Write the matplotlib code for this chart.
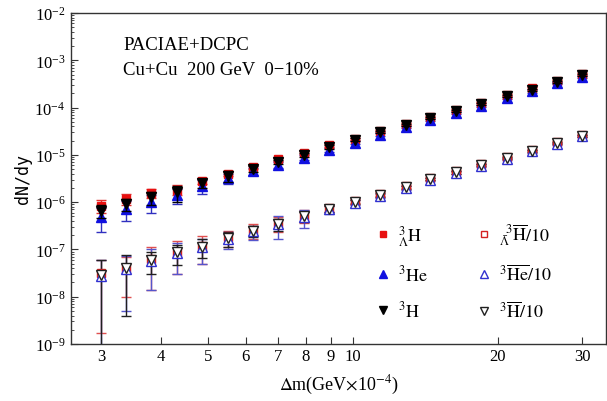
import matplotlib
matplotlib.use("Agg")
import matplotlib.pyplot as plt
from matplotlib.ticker import FixedLocator, NullLocator, LogLocator, FixedFormatter
from matplotlib.lines import Line2D

# ---- data ----
dm = [3.0, 3.39, 3.82, 4.32, 4.87, 5.50, 6.21, 7.01, 7.92, 8.94,
      10.1, 11.4, 12.9, 14.5, 16.4, 18.5, 20.9, 23.6, 26.6, 30.0]

lam3H = [8.4e-7, 1.17e-6, 1.55e-6, 1.85e-6, 2.85e-6, 4.0e-6, 5.6e-6, 8.0e-6, 1.12e-5, 1.6e-5,
         2.2e-5, 3.2e-5, 4.6e-5, 6.3e-5, 9.0e-5, 1.28e-4, 1.85e-4, 2.55e-4, 3.7e-4, 5.2e-4]
lam3H_err = [2.5e-7, 3.0e-7, 3.5e-7, 4.0e-7, 4.5e-7, 5.0e-7, 6.0e-7, 7.0e-7, 8.0e-7, 1.0e-6,
             1.2e-6, 1.6e-6, 2.2e-6, 3.0e-6, 4.2e-6, 6.0e-6, 8.5e-6, 1.2e-5, 1.7e-5, 2.4e-5]

he3 = [4.9e-7, 7.2e-7, 1.0e-6, 1.4e-6, 2.2e-6, 3.2e-6, 4.6e-6, 6.2e-6, 8.7e-6, 1.25e-5,
       1.8e-5, 2.65e-5, 3.85e-5, 5.4e-5, 7.8e-5, 1.08e-4, 1.58e-4, 2.2e-4, 3.25e-4, 4.5e-4]
he3_err = [2.6e-7, 3.2e-7, 4.0e-7, 5.0e-7, 7.0e-7, 8.0e-7, 8.0e-7, 9.0e-7, 1.0e-6, 1.2e-6,
           1.4e-6, 1.8e-6, 2.4e-6, 3.2e-6, 4.4e-6, 6.0e-6, 8.5e-6, 1.2e-5, 1.7e-5, 2.3e-5]

h3 = [6.6e-7, 9.1e-7, 1.26e-6, 1.6e-6, 2.55e-6, 3.6e-6, 5.1e-6, 7.1e-6, 1.0e-5, 1.47e-5,
      2.1e-5, 3.0e-5, 4.3e-5, 6.0e-5, 8.6e-5, 1.19e-4, 1.73e-4, 2.4e-4, 3.5e-4, 4.9e-4]
h3_err = [2.0e-7, 2.6e-7, 4.0e-7, 6.0e-7, 6.0e-7, 9.0e-7, 8.0e-7, 8.0e-7, 9.0e-7, 1.1e-6,
          1.3e-6, 1.7e-6, 2.3e-6, 3.1e-6, 4.3e-6, 6.0e-6, 8.5e-6, 1.2e-5, 1.7e-5, 2.3e-5]

alam3H = [3.1e-8, 4.0e-8, 6.2e-8, 9.0e-8, 1.2e-7, 1.8e-7, 2.6e-7, 3.6e-7, 5.2e-7, 7.5e-7,
          1.07e-6, 1.48e-6, 2.15e-6, 3.2e-6, 4.5e-6, 6.4e-6, 8.9e-6, 1.28e-5, 1.85e-5, 2.65e-5]
alam3H_err = [2.93e-8, 3.0e-8, 4.8e-8, 6.0e-8, 7.0e-8, 7.0e-8, 9.0e-8, 1.3e-7, 1.6e-7, 1.2e-7,
              1.0e-7, 1.2e-7, 1.5e-7, 2.0e-7, 2.6e-7, 3.4e-7, 4.5e-7, 6.0e-7, 8.5e-7, 1.2e-6]

ahe3 = [2.7e-8, 3.9e-8, 5.8e-8, 8.4e-8, 1.1e-7, 1.68e-7, 2.4e-7, 3.4e-7, 4.8e-7, 7.0e-7,
        9.8e-7, 1.36e-6, 1.98e-6, 3.0e-6, 4.15e-6, 5.9e-6, 8.2e-6, 1.18e-5, 1.72e-5, 2.45e-5]
ahe3_err = [3.3e-8, 3.4e-8, 4.4e-8, 5.4e-8, 6.0e-8, 6.5e-8, 8.0e-8, 1.7e-7, 1.9e-7, 1.3e-7,
            1.1e-7, 1.4e-7, 1.8e-7, 2.3e-7, 3.0e-7, 3.8e-7, 5.0e-7, 6.5e-7, 9.0e-7, 1.2e-6]

ah3 = [2.9e-8, 4.1e-8, 6.0e-8, 8.7e-8, 1.15e-7, 1.74e-7, 2.5e-7, 3.5e-7, 5.0e-7, 7.2e-7,
       1.03e-6, 1.41e-6, 2.06e-6, 3.1e-6, 4.3e-6, 6.1e-6, 8.5e-6, 1.22e-5, 1.78e-5, 2.55e-5]
ah3_err = [3.0e-8, 3.7e-8, 3.0e-8, 3.9e-8, 5.0e-8, 6.0e-8, 7.0e-8, 1.0e-7, 1.2e-7, 1.0e-7,
           1.0e-7, 1.2e-7, 1.6e-7, 2.1e-7, 2.8e-7, 3.6e-7, 4.8e-7, 6.3e-7, 8.8e-7, 1.2e-6]

xticks = [3, 4, 5, 6, 7, 8, 9, 10, 20, 30]
xticklabels = ["3", "4", "5", "6", "7", "8", "9", "10", "20", "30"]

# ---- plot ----
plt.rcParams['font.family'] = ['Liberation Serif', 'DejaVu Serif']
plt.rcParams['mathtext.fontset'] = 'stix'

fig = plt.figure(figsize=(6.07, 4.02), dpi=100)
ax = fig.add_axes([71/607, 1-345/402, (606-71)/607, (345-14)/402])
ax.set_xscale('log')
ax.set_yscale('log')

ekw = dict(capsize=3.5, elinewidth=1.0, capthick=1.0, linestyle='none')

ax.errorbar(dm, alam3H, yerr=alam3H_err, marker='s', ms=5.5, mfc='white', mec='#d42020',
            ecolor='#e05050', label=r'$^{\ \ 3}_{\bar{\Lambda}}\overline{\mathrm{H}}/10$', zorder=3, **ekw)
ax.errorbar(dm, ahe3, yerr=ahe3_err, marker='^', ms=6.5, mfc='white', mec='#3030d0',
            ecolor='#5555cc', label=r'$^{3}\overline{\mathrm{He}}/10$', zorder=3, **ekw)
ax.errorbar(dm, ah3, yerr=ah3_err, marker='v', ms=6.5, mfc='white', mec='#202020',
            ecolor='#202020', label=r'$^{3}\overline{\mathrm{H}}/10$', zorder=3, **ekw)

ax.errorbar(dm, lam3H, yerr=lam3H_err, marker='s', ms=5.5, color='#e81010',
            ecolor='#e03030', label=r'$^{3}_{\Lambda}\mathrm{H}$', zorder=4, **ekw)
ax.errorbar(dm, he3, yerr=he3_err, marker='^', ms=6.5, color='#1010e0',
            ecolor='#3030c0', label=r'$^{3}\mathrm{He}$', zorder=4, **ekw)
ax.errorbar(dm, h3, yerr=h3_err, marker='v', ms=6.5, color='#000000',
            ecolor='#000000', label=r'$^{3}\mathrm{H}$', zorder=5, **ekw)

ax.set_xlim(2.60, 33.6)
ax.set_ylim(1e-9, 1e-2)

ax.xaxis.set_major_locator(FixedLocator(xticks))
ax.xaxis.set_major_formatter(FixedFormatter(xticklabels))
ax.xaxis.set_minor_locator(NullLocator())
ax.yaxis.set_major_locator(LogLocator(base=10, numticks=20))
ax.yaxis.set_minor_locator(LogLocator(base=10, subs=range(2, 10), numticks=20))

ax.tick_params(which='both', direction='in', labelsize=12, color='#333333')
ax.tick_params(which='major', length=5, width=0.8)
ax.tick_params(axis='x', which='major', pad=3)
ax.tick_params(axis='y', which='major', pad=4)
ax.tick_params(which='minor', length=2.5, width=0.6)
for s in ax.spines.values():
    s.set_color('#333333')
    s.set_linewidth(1.0)

ax.set_xlabel(r'$\Delta$m(GeV$\times$10$^{-4}$)', fontsize=13, labelpad=6)
ax.set_ylabel('dN/dy', fontsize=12, family='DejaVu Sans Mono', labelpad=2)

ax.text(0.098, 0.905, 'PACIAE+DCPC', transform=ax.transAxes, fontsize=13.5, va='center')
ax.text(0.098, 0.83, 'Cu+Cu  200 GeV  0\u221210%', transform=ax.transAxes, fontsize=13.5, va='center')

handles, labels = ax.get_legend_handles_labels()
order = [3, 4, 5, 0, 1, 2]
hs = []
for i in order:
    ln = handles[i][0]
    hs.append(Line2D([], [], linestyle='none', marker=ln.get_marker(), ms=ln.get_markersize() - 0.5,
                     mfc=ln.get_markerfacecolor(), mec=ln.get_markeredgecolor()))
leg = ax.legend(hs, [labels[i] for i in order], ncol=2, loc='upper left',
                bbox_to_anchor=(0.535, 0.42), frameon=False, fontsize=13,
                handlelength=1.0, handletextpad=0.35, columnspacing=2.6, labelspacing=0.9)

fig.savefig('out.png', dpi=100)
